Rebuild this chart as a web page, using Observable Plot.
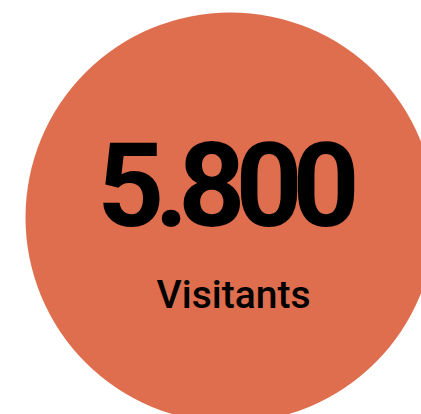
<!DOCTYPE html>
<html>
<head>
<meta charset="utf-8">
<script src="https://cdn.jsdelivr.net/npm/d3@7"></script>
<script src="https://cdn.jsdelivr.net/npm/@observablehq/plot@0.6"></script>
<style>
  html, body { margin: 0; padding: 0; background: #fff; }
  #chart svg { display: block; }
</style>
</head>
<body>
<div id="chart"></div>
<script>
// Data
const labels = ["Visitants"];
const values = [5800];
const colors = ["#de6e4e"];

const fmt = d3.formatLocale({decimal: ",", thousands: ".", grouping: [3], currency: ["", " €"]}).format(",");
const data = labels.map((l, i) => ({label: l, value: values[i], color: colors[i], x: 0, y: 0}));

const chart = Plot.plot({
  width: 421,
  height: 414,
  margin: 0,
  x: {domain: [-230, 191], range: [0, 421], axis: null},
  y: {domain: [-217, 197], range: [0, 414], axis: null},
  r: {type: "sqrt", domain: [0, 5800], range: [0, 205]},
  style: {fontFamily: "Roboto, sans-serif", background: "white"},
  marks: [
    Plot.dot(data, {x: "x", y: "y", r: "value", fill: "color", stroke: null}),
    Plot.text(data, {x: "x", y: "y", text: d => fmt(d.value), lineAnchor: "bottom", dy: 8, dx: -7,
      fontSize: 117, fontWeight: 700, fill: "#000", textAnchor: "middle"}),
    Plot.text(data, {x: "x", y: "y", text: "label", lineAnchor: "bottom", dy: 90, dx: 3,
      fontSize: 39, fontWeight: 500, fill: "#000", textAnchor: "middle"})
  ]
});
d3.select(chart).selectAll("text").filter(function() { return this.textContent === fmt(values[0]); })
  .style("letter-spacing", "-10px");
document.getElementById("chart").append(chart);
</script>
</body>
</html>
